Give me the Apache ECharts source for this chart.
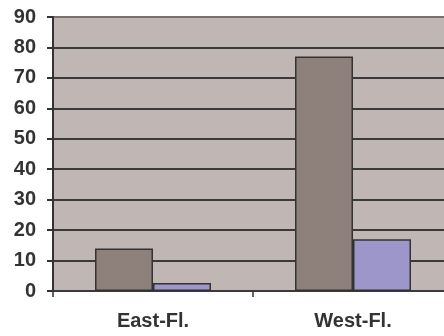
<!DOCTYPE html>
<html>
<head>
<meta charset="utf-8">
<script src="https://cdn.jsdelivr.net/npm/echarts@6/dist/echarts.min.js"></script>
<style>
  html, body { margin: 0; padding: 0; background: #ffffff; overflow: hidden; }
  #chart { width: 460px; height: 336px; }
</style>
</head>
<body>
<div id="chart"></div>
<script>
// Regions and the two measured series
const categories = ['East-Fl.', 'West-Fl.'];
const seriesA = [14, 77];
const seriesB = [2.6, 17];
const yTicks = { min: 0, max: 90, interval: 10 };

const chart = echarts.init(document.getElementById('chart'));
const labelFont = { fontFamily: 'Liberation Sans, Arial, sans-serif', fontWeight: 'bold', fontSize: 20, color: '#333333' };

// dark grid lines, with a softer line along the top edge of the plot
const gridColors = ['#3a3a3a', '#3a3a3a', '#3a3a3a', '#3a3a3a', '#3a3a3a',
                    '#3a3a3a', '#3a3a3a', '#3a3a3a', '#3a3a3a', '#7a706c'];

chart.setOption({
  animation: false,
  backgroundColor: '#ffffff',
  grid: {
    left: 53, top: 17, width: 400, height: 274,
    show: true, backgroundColor: '#c0b6b3', borderWidth: 0
  },
  xAxis: {
    type: 'category',
    data: categories,
    axisLine: { show: false },
    axisTick: { show: true, alignWithLabel: false, length: 6, lineStyle: { color: '#333333', width: 1.5 } },
    axisLabel: Object.assign({ margin: 20 }, labelFont),
    splitLine: { show: false }
  },
  yAxis: {
    type: 'value',
    min: yTicks.min, max: yTicks.max, interval: yTicks.interval,
    axisLine: { show: true, lineStyle: { color: '#333333', width: 2 } },
    axisTick: { show: true, length: 6, lineStyle: { color: '#333333', width: 2 } },
    axisLabel: Object.assign({ margin: 17 }, labelFont),
    splitLine: { show: true, lineStyle: { color: gridColors, width: 2 } }
  },
  series: [
    {
      type: 'bar', data: seriesA, barWidth: 58, barGap: '0%',
      itemStyle: { color: '#8e817c', borderColor: '#333333', borderWidth: 1.5 }
    },
    {
      type: 'bar', data: seriesB, barWidth: 58, barGap: '0%',
      itemStyle: { color: '#9c96cb', borderColor: '#333333', borderWidth: 1.5 }
    }
  ]
});
</script>
</body>
</html>
